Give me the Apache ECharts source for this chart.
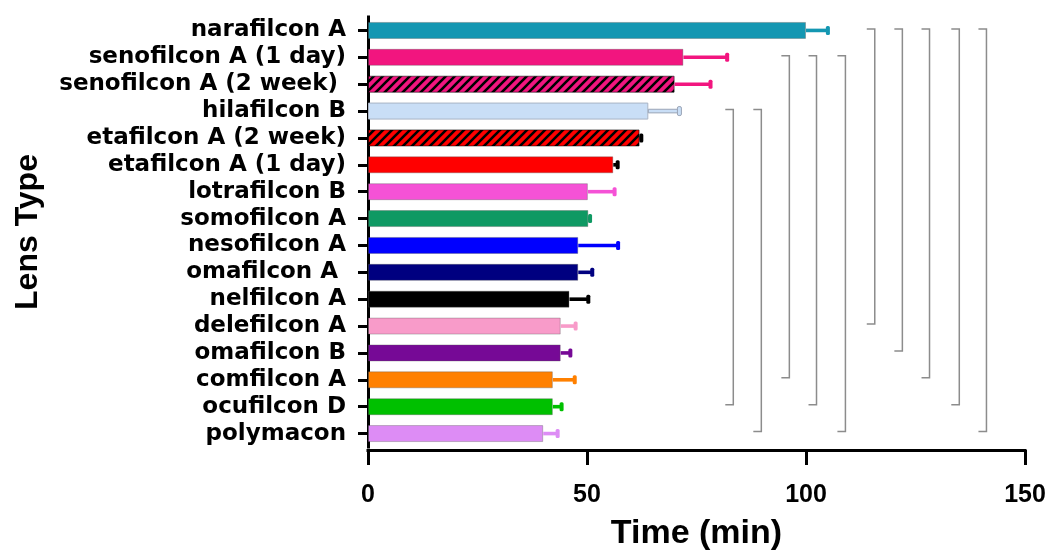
<!DOCTYPE html>
<html>
<head>
<meta charset="utf-8">
<script src="https://cdn.jsdelivr.net/npm/echarts@6/dist/echarts.min.js"></script>
<style>html,body{margin:0;padding:0;background:#fff}#c{width:1050px;height:560px}</style>
</head>
<body>
<div id="c"></div>
<script>
// ---- data ----
var categories = ['narafilcon A','senofilcon A (1 day)','senofilcon A (2 week) ','hilafilcon B','etafilcon A (2 week)','etafilcon A (1 day)','lotrafilcon B','somofilcon A','nesofilcon A','omafilcon A ','nelfilcon A','delefilcon A','omafilcon B','comfilcon A','ocufilcon D','polymacon'];
var meanTime = [100, 72, 70, 64, 62, 56, 50.2, 50.3, 48, 48, 46, 44, 44, 42.2, 42.2, 40];
var errorTop = [105, 82, 78.2, 71.1, 62.4, 57, 56.3, 50.7, 57.1, 51.2, 50.3, 47.4, 46.2, 47.2, 44.2, 43.3];
var xTicks = [0, 50, 100, 150];
// significance brackets: [x position (min), first row index, last row index]
var bracketX = [83.4, 89.8, 96.2, 102.4, 109, 115.7, 122, 128.2, 135, 141.2];
var bracketFrom = [3, 3, 1, 1, 1, 0, 0, 0, 0, 0];
var bracketTo = [14, 15, 13, 14, 15, 11, 12, 13, 14, 15];

// ---- styles ----
var barColors = ['#1497b2','#f2157f','#f2157f','#c9def6','#ff0000','#ff0000','#f552d6','#0f9963','#0000ff','#000080','#000000','#f89bc9','#760996','#ff8000','#00c000','#dd8cf5'];
var hatched = [false,false,true,false,true,false,false,false,false,false,false,false,false,false,false,false];
var errColors = barColors.slice(); errColors[4] = '#000000'; errColors[5] = '#000000';

function hatchPattern(bg) {
  var s = 9, c = document.createElement('canvas');
  c.width = s; c.height = s;
  var g = c.getContext('2d');
  g.fillStyle = bg; g.fillRect(0, 0, s, s);
  g.strokeStyle = '#000'; g.lineWidth = 2.6;
  g.beginPath();
  g.moveTo(-2, 2); g.lineTo(2, -2);
  g.moveTo(0, s); g.lineTo(s, 0);
  g.moveTo(s - 2, s + 2); g.lineTo(s + 2, s - 2);
  g.stroke();
  return {image: c, repeat: 'repeat'};
}

var barData = meanTime.map(function (v, i) {
  var col = hatched[i] ? hatchPattern(barColors[i]) : barColors[i];
  var border = i === 3 ? '#a9b3c4' : (hatched[i] ? 'rgba(0,0,0,0.55)' : 'rgba(90,90,90,0.35)');
  return {value: v, itemStyle: {color: col, borderColor: border, borderWidth: 1}};
});
var errData = meanTime.map(function (v, i) { return [v, i, errorTop[i]]; });
var brData = bracketX.map(function (x, i) { return [x, bracketFrom[i], bracketTo[i]]; });

var chart = echarts.init(document.getElementById('c'), null, {renderer: 'canvas'});
chart.setOption({
  animation: false,
  backgroundColor: '#ffffff',
  grid: {left: 368, right: 25, top: 17, bottom: 113, containLabel: false},
  xAxis: {
    type: 'value', min: xTicks[0], max: xTicks[xTicks.length - 1], interval: xTicks[1] - xTicks[0],
    offset: 3,
    splitLine: {show: false},
    axisLine: {show: true, lineStyle: {color: '#000', width: 3, cap: 'square'}},
    axisTick: {show: true, length: 15, lineStyle: {color: '#000', width: 3}},
    axisLabel: {margin: 33, color: '#000', fontFamily: 'Liberation Sans, Arial, sans-serif', fontWeight: 'bold', fontSize: 25},
    name: 'Time (min)', nameLocation: 'middle', nameGap: 67,
    nameTextStyle: {color: '#000', fontFamily: 'Liberation Sans, Arial, sans-serif', fontWeight: 'bold', fontSize: 34}
  },
  yAxis: {
    type: 'category', data: categories, inverse: true,
    axisLine: {show: true, lineStyle: {color: '#000', width: 3, cap: 'square'}},
    axisTick: {show: true, alignWithLabel: true, length: 10, lineStyle: {color: '#000', width: 3}},
    axisLabel: {interval: 0, margin: 22, color: '#000', fontFamily: 'DejaVu Sans, sans-serif', fontWeight: 'bold', fontSize: 23},
    name: 'Lens Type', nameLocation: 'middle', nameGap: 324, nameRotate: 90,
    nameTextStyle: {color: '#000', fontFamily: 'Liberation Sans, Arial, sans-serif', fontWeight: 'bold', fontSize: 32}
  },
  series: [
    {type: 'bar', data: barData, barWidth: 17, z: 2},
    {
      type: 'custom', z: 3, data: errData, encode: {x: [0, 2], y: 1},
      renderItem: function (params, api) {
        var i = params.dataIndex;
        var a = api.coord([api.value(0), api.value(1)]);
        var b = api.coord([api.value(2), api.value(1)]);
        var col = errColors[i];
        var stroke = i === 3 ? '#9aa4b6' : null;
        var lw = stroke ? 1 : 0;
        var w = Math.max(b[0] - a[0], 0);
        return {
          type: 'group',
          children: [
            {type: 'rect', shape: {x: a[0], y: a[1] - 1.8, width: w, height: 3.6},
             style: {fill: col, stroke: stroke, lineWidth: lw}},
            {type: 'rect', shape: {x: b[0] - 2, y: b[1] - 4.5, width: 4, height: 9, r: 1.5},
             style: {fill: col, stroke: stroke, lineWidth: lw}}
          ]
        };
      }
    },
    {
      type: 'custom', z: 1, data: brData, encode: {x: 0, y: [1, 2]}, clip: false,
      renderItem: function (params, api) {
        var p1 = api.coord([api.value(0), api.value(1)]);
        var p2 = api.coord([api.value(0), api.value(2)]);
        var y1 = p1[1] - 1.5, y2 = p2[1] - 2;
        return {
          type: 'polyline',
          shape: {points: [[p1[0] - 8, y1], [p1[0], y1], [p2[0], y2], [p2[0] - 8, y2]]},
          style: {stroke: '#8c8c8c', lineWidth: 1.5, fill: null}
        };
      }
    }
  ]
});
</script>
</body>
</html>
